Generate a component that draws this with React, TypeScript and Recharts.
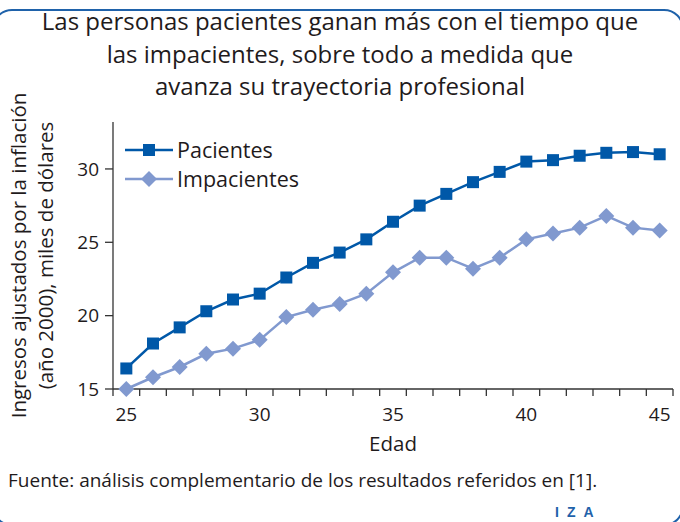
import React from 'react'
import { LineChart, Line, XAxis, YAxis, Legend } from 'recharts'

const edades = [25, 26, 27, 28, 29, 30, 31, 32, 33, 34, 35, 36, 37, 38, 39, 40, 41, 42, 43, 44, 45]
const pacientes = [16.4, 18.1, 19.2, 20.3, 21.1, 21.5, 22.6, 23.6, 24.3, 25.2, 26.4, 27.5, 28.3, 29.1, 29.8, 30.5, 30.6, 30.9, 31.1, 31.15, 31.0]
const impacientes = [15.0, 15.8, 16.5, 17.4, 17.75, 18.35, 19.9, 20.4, 20.8, 21.5, 22.95, 23.95, 23.95, 23.2, 23.95, 25.2, 25.6, 26.0, 26.8, 26.0, 25.8]
const yTicks = [15, 20, 25, 30]
const xLabels = [25, 30, 35, 40, 45]

const data = edades.map((edad, i) => ({ edad, pacientes: pacientes[i], impacientes: impacientes[i] }))
// tick marks sit between the categories, like the original Excel chart
const xMarks = [...edades.map(e => e - 0.5), edades[edades.length - 1] + 0.5]
const xDomain = [xMarks[0], xMarks[xMarks.length - 1]]

const DARK = '#0058a8'
const LIGHT = '#8199cf'
const TEXT = '#1f1b1c'
const AXIS = '#333'
const FONT = '"Open Sans", sans-serif'

const Square = (props: any) => {
  const { cx, cy, side = 12, fill } = props
  if (cx == null || cy == null) return null
  return <rect x={cx - side / 2} y={cy - side / 2} width={side} height={side} fill={fill} />
}

const Diamond = (props: any) => {
  const { cx, cy, half = 8, fill } = props
  if (cx == null || cy == null) return null
  return <polygon points={`${cx},${cy - half} ${cx + half},${cy} ${cx},${cy + half} ${cx - half},${cy}`} fill={fill} />
}

const LegendBox = () => {
  const items = [
    { name: 'Pacientes', color: DARK, Marker: Square },
    { name: 'Impacientes', color: LIGHT, Marker: Diamond },
  ]
  return (
    <div style={{ fontFamily: FONT }}>
      {items.map(({ name, color, Marker }) => (
        <div key={name} style={{ display: 'flex', alignItems: 'center', height: 29 }}>
          <svg width={52} height={18}>
            <line x1={0} y1={9} x2={48} y2={9} stroke={color} strokeWidth={2.5} />
            <Marker cx={24} cy={9} fill={color} />
          </svg>
          <span style={{ fontSize: 21.5, color: TEXT, lineHeight: '29px' }}>{name}</span>
        </div>
      ))}
    </div>
  )
}

const YLabel = (props: any) => {
  const { viewBox } = props
  const cy = viewBox.y + viewBox.height / 2
  return (
    <g fill={TEXT} fontSize={20.5} fontFamily={FONT} textAnchor="middle">
      <text x={18} y={cy} transform={`rotate(-90 18 ${cy})`} dominantBaseline="central">
        Ingresos ajustados por la inflación
      </text>
      <text x={45} y={cy} transform={`rotate(-90 45 ${cy})`} dominantBaseline="central">
        (año 2000), miles de dólares
      </text>
    </g>
  )
}

const XLabel = (props: any) => {
  const { viewBox } = props
  return (
    <text x={viewBox.x + viewBox.width / 2} y={viewBox.y + 61} fill={TEXT} fontSize={20.5} fontFamily={FONT} textAnchor="middle">
      Edad
    </text>
  )
}

export default function App() {
  return (
    <div style={{ position: 'fixed', left: 0, top: 0, width: 680, height: 522, overflow: 'hidden', background: '#fff', fontFamily: FONT, color: TEXT }}>
      <div style={{ position: 'absolute', left: -8, top: 9, width: 692, height: 517, border: '2.5px solid #1f62aa', borderRadius: 20, boxSizing: 'border-box' }} />
      <div style={{ position: 'absolute', left: 0, top: 5, width: 680, textAlign: 'center', fontSize: 24, lineHeight: '32.5px' }}>
        Las personas pacientes ganan más con el tiempo que<br />
        las impacientes, sobre todo a medida que<br />
        avanza su trayectoria profesional
      </div>
      <LineChart width={680} height={522} data={data} margin={{ top: 122, right: 7, left: 0, bottom: 0 }} style={{ position: 'absolute', left: 0, top: 0 }}>
        <XAxis
          xAxisId="z_main"
          type="number"
          dataKey="edad"
          domain={xDomain}
          ticks={xLabels}
          interval={0}
          height={132}
          axisLine={false}
          tickLine={false}
          tickSize={8}
          tickMargin={10}
          tick={{ fill: TEXT, fontSize: 19, fontFamily: FONT }}
          label={<XLabel />}
        />
        <XAxis
          xAxisId="a_marks"
          type="number"
          dataKey="edad"
          domain={xDomain}
          ticks={xMarks}
          interval={0}
          height={1}
          tickSize={7}
          tickFormatter={() => ''}
          axisLine={{ stroke: AXIS, strokeWidth: 1.3 }}
          tickLine={{ stroke: AXIS, strokeWidth: 1.3 }}
        />
        <YAxis
          type="number"
          domain={[15, 33.2]}
          ticks={yTicks}
          interval={0}
          width={113}
          tickSize={8}
          tickMargin={6}
          axisLine={{ stroke: AXIS, strokeWidth: 1.3 }}
          tickLine={{ stroke: AXIS, strokeWidth: 1.3 }}
          tick={{ fill: TEXT, fontSize: 19, fontFamily: FONT }}
          label={<YLabel />}
        />
        <Legend
          layout="vertical"
          align="center"
          verticalAlign="middle"
          content={<LegendBox />}
          wrapperStyle={{ left: 125, top: 135, width: 'auto', height: 'auto' }}
        />
        <Line
          xAxisId="z_main"
          dataKey="pacientes"
          name="Pacientes"
          stroke={DARK}
          strokeWidth={2.5}
          dot={<Square fill={DARK} side={12} />}
          isAnimationActive={false}
        />
        <Line
          xAxisId="z_main"
          dataKey="impacientes"
          name="Impacientes"
          stroke={LIGHT}
          strokeWidth={2.5}
          dot={<Diamond fill={LIGHT} half={8} />}
          isAnimationActive={false}
        />
      </LineChart>
      <div style={{ position: 'absolute', left: 8, top: 467, fontSize: 19, whiteSpace: 'nowrap' }}>
        Fuente: análisis complementario de los resultados referidos en [1].
      </div>
      <div style={{ position: 'absolute', left: 555, top: 504, fontSize: 14, fontWeight: 700, color: '#1f62aa', letterSpacing: 8, fontFamily: '"Liberation Sans", sans-serif' }}>
        IZA
      </div>
    </div>
  )
}
